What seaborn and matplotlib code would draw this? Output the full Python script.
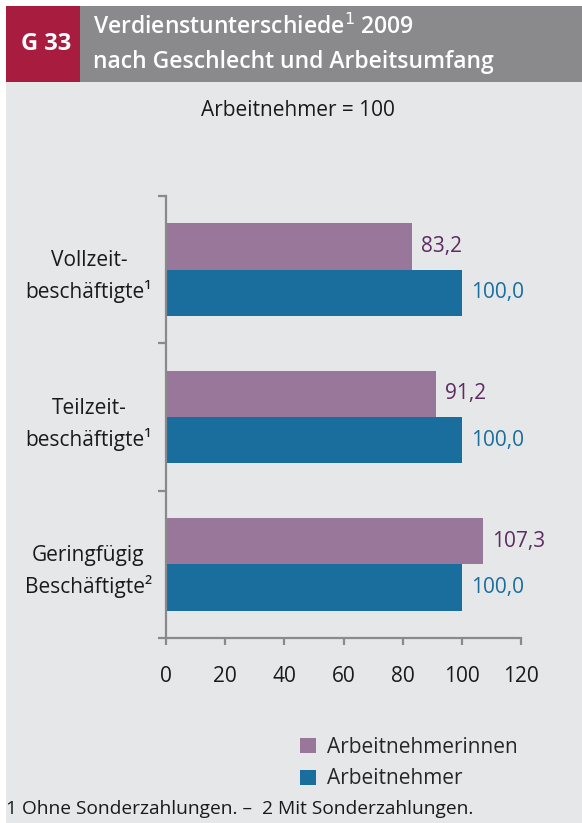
import matplotlib
matplotlib.use("Agg")
import matplotlib.pyplot as plt
from matplotlib.patches import Rectangle
from matplotlib.ticker import FixedLocator
import seaborn as sns
import pandas as pd

categories = ["Vollzeit-\nbeschäftigte¹", "Teilzeit-\nbeschäftigte¹", "Geringfügig\nBeschäftigte²"]
women = [83.2, 91.2, 107.3]
men = [100.0, 100.0, 100.0]
series_names = ["Arbeitnehmerinnen", "Arbeitnehmer"]
x_ticks = [0, 20, 40, 60, 80, 100, 120]

PANEL = "#e6e7e9"
PURPLE = "#98779b"
BLUE = "#1a6e9e"
PURPLE_TXT = "#5e2b60"
GREY = "#8a8a8c"
RED = "#a81d3f"

df = pd.DataFrame({
    "Gruppe": categories * 2,
    "Wert": women + men,
    "Serie": [series_names[0]] * 3 + [series_names[1]] * 3,
})

sns.set_theme(style="white")
plt.rcParams["font.family"] = ["Open Sans", "DejaVu Sans"]

W, H = 582, 823
fig = plt.figure(figsize=(W / 100, H / 100), dpi=100, facecolor="white")

def fx(px):
    return px / W

def fy(py):
    return 1 - py / H

# background panels and header
for (x0, y0, x1, y1, col) in [(6, 82, 582, 823, PANEL), (6, 6, 80, 82, RED), (80, 6, 582, 82, GREY)]:
    fig.patches.append(Rectangle((fx(x0), fy(y1)), fx(x1) - fx(x0), fy(y0) - fy(y1),
                                 transform=fig.transFigure, facecolor=col,
                                 edgecolor="none", zorder=-10))

fig.text(fx(46), fy(44), "G 33", color="white", fontsize=17, fontweight="bold",
         ha="center", va="center")
fig.text(fx(93), fy(27), "Verdienstunterschiede$^{1}$ 2009", color="white", fontsize=16.5,
         fontweight="semibold", ha="left", va="center")
fig.text(fx(93), fy(62), "nach Geschlecht und Arbeitsumfang", color="white", fontsize=16.5,
         fontweight="semibold", ha="left", va="center")
fig.text(fx(298), fy(110), "Arbeitnehmer = 100", color="#1a1a1a", fontsize=15,
         ha="center", va="center")

ax = fig.add_axes([fx(166), fy(638), fx(521) - fx(166), fy(196) - fy(638)])
ax.set_facecolor("none")

sns.barplot(data=df, y="Gruppe", x="Wert", hue="Serie", orient="h",
            palette=[PURPLE, BLUE], width=0.63, saturation=1, linewidth=0, ax=ax)

ax.set_xlim(0, 120)
ax.set_ylim(2.5, -0.5)
ax.set_xlabel("")
ax.set_ylabel("")

for s in ["top", "right"]:
    ax.spines[s].set_visible(False)
for s in ["left", "bottom"]:
    ax.spines[s].set_color(GREY)
    ax.spines[s].set_linewidth(1.6)

ax.set_xticks(x_ticks)
ax.set_xticklabels([str(t) for t in x_ticks])
ax.tick_params(axis="x", bottom=True, length=5, width=1.6, color=GREY, pad=15,
               labelsize=15, labelcolor="#1a1a1a")

ax.yaxis.set_minor_locator(FixedLocator([-0.5, 0.5, 1.5, 2.5]))
ax.tick_params(axis="y", which="minor", left=True, length=6, width=1.6, color=GREY)
ax.tick_params(axis="y", which="major", left=False, length=0, pad=10,
               labelsize=15, labelcolor="#1a1a1a")
for lbl in ax.get_yticklabels():
    lbl.set_multialignment("center")
    lbl.set_linespacing(1.5)

# value labels with German decimal comma
for cont, col in zip(ax.containers, [PURPLE_TXT, BLUE]):
    ax.bar_label(cont, labels=[f"{v:.1f}".replace(".", ",") for v in cont.datavalues],
                 padding=6.5, color=col, fontsize=15)

handles, labels = ax.get_legend_handles_labels()
ax.legend(handles, labels, loc="upper left", bbox_to_anchor=(fx(300), fy(737)),
          bbox_transform=fig.transFigure, frameon=False, fontsize=15,
          handlelength=0.75, handleheight=0.75, handletextpad=0.55, labelspacing=0.5,
          borderaxespad=0, borderpad=0)

fig.text(fx(6), fy(809), "1 Ohne Sonderzahlungen. –  2 Mit Sonderzahlungen.",
         color="#1a1a1a", fontsize=13.8, ha="left", va="center")

fig.savefig("out.png", dpi=100, facecolor="white")
